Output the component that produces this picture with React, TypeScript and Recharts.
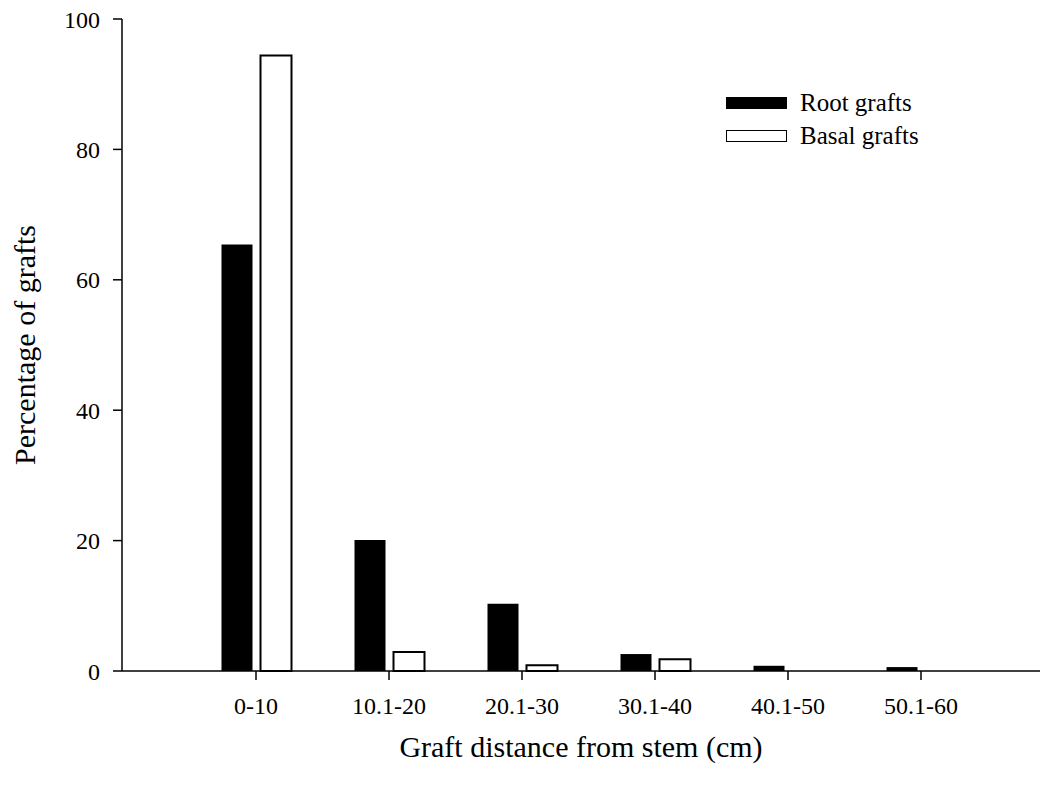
import { Bar, BarChart, Legend, XAxis, YAxis } from "recharts";

// Distance classes and percentages.
const distanceClasses = ["0-10", "10.1-20", "20.1-30", "30.1-40", "40.1-50", "50.1-60"];
const rootGrafts = [65.4, 20.1, 10.3, 2.6, 0.8, 0.6];
const basalGrafts = [94.4, 2.9, 0.9, 1.8, 0, 0];
const yTicks = [0, 20, 40, 60, 80, 100];

const rows = distanceClasses.map((range, i) => ({
  range,
  root: rootGrafts[i],
  basal: basalGrafts[i],
}));

const serif = '"Liberation Serif", "Times New Roman", serif';

function GraftLegend() {
  const items = [
    { label: "Root grafts", fill: "#000" },
    { label: "Basal grafts", fill: "#fff" },
  ];
  return (
    <div style={{ fontFamily: serif, fontSize: 25, color: "#000" }}>
      {items.map((it) => (
        <div
          key={it.label}
          style={{ display: "flex", alignItems: "center", height: 33 }}
        >
          <span
            style={{
              display: "inline-block",
              width: 59,
              height: 10,
              background: it.fill,
              border: "1.5px solid #000",
              marginRight: 13,
            }}
          />
          <span>{it.label}</span>
        </div>
      ))}
    </div>
  );
}

export default function App() {
  return (
    <div style={{ position: "absolute", left: 0, top: 0, background: "#fff" }}>
      <BarChart
        width={1047}
        height={785}
        data={rows}
        margin={{ top: 19, right: 7, bottom: 0, left: 0 }}
        barSize={31}
        barGap={8}
      >
        <XAxis
          dataKey="range"
          height={114}
          padding={{ left: 67.5, right: 52.5 }}
          tickSize={9}
          tickMargin={17}
          axisLine={{ stroke: "#000", strokeWidth: 1.5 }}
          tickLine={{ stroke: "#000", strokeWidth: 1.5 }}
          tick={{ fontFamily: serif, fontSize: 24, fill: "#000" }}
          label={{
            value: "Graft distance from stem (cm)",
            position: "insideBottom",
            offset: 28,
            style: { fontFamily: serif, fontSize: 30, fill: "#000" },
          }}
        />
        <YAxis
          width={122}
          domain={[0, 100]}
          ticks={yTicks}
          tickSize={9}
          tickMargin={13}
          axisLine={{ stroke: "#000", strokeWidth: 1.5 }}
          tickLine={{ stroke: "#000", strokeWidth: 1.5 }}
          tick={{ fontFamily: serif, fontSize: 24, fill: "#000" }}
          label={{
            value: "Percentage of grafts",
            angle: -90,
            position: "insideLeft",
            offset: 24,
            textAnchor: "middle",
            style: { fontFamily: serif, fontSize: 30, fill: "#000" },
          }}
        />
        <Legend
          layout="horizontal"
          verticalAlign="middle"
          align="center"
          content={<GraftLegend />}
          wrapperStyle={{ left: 726, top: 86, width: 240 }}
        />
        <Bar dataKey="root" name="Root grafts" fill="#000" isAnimationActive={false} />
        <Bar
          dataKey="basal"
          name="Basal grafts"
          fill="#fff"
          stroke="#000"
          strokeWidth={2}
          isAnimationActive={false}
        />
      </BarChart>
    </div>
  );
}
